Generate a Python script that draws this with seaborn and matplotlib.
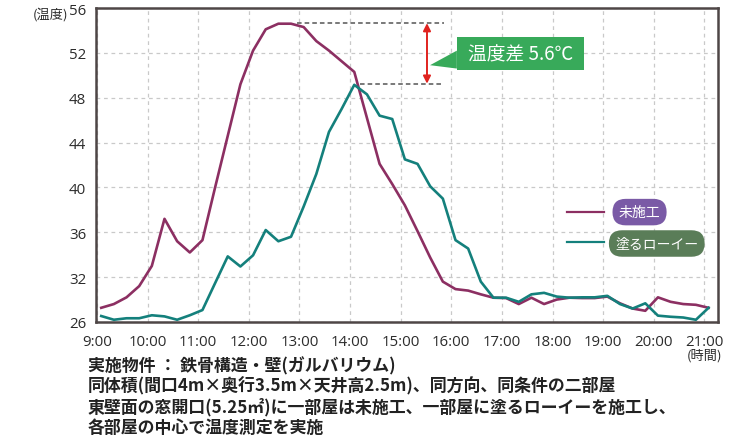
import numpy as np
import pandas as pd
import matplotlib
matplotlib.use("Agg")
import matplotlib.pyplot as plt
from matplotlib.patches import Polygon
import seaborn as sns

# ---------------- data ----------------
times = ["9:05", "9:20", "9:35", "9:50", "10:05", "10:20", "10:35", "10:50",
         "11:05", "11:20", "11:35", "11:50", "12:05", "12:20", "12:35", "12:50",
         "13:05", "13:20", "13:35", "13:50", "14:05", "14:20", "14:35", "14:50",
         "15:05", "15:20", "15:35", "15:50", "16:05", "16:20", "16:35", "16:50",
         "17:05", "17:20", "17:35", "17:50", "18:05", "18:20", "18:35", "18:50",
         "19:05", "19:20", "19:35", "19:50", "20:05", "20:20", "20:35", "20:50",
         "21:05"]
untreated = [27.9, 28.4, 29.3, 30.8, 33.0, 37.2, 35.2, 34.2,
             35.3, 40.0, 44.6, 49.2, 52.2, 54.1, 54.6, 54.6,
             54.3, 53.05, 52.2, 51.25, 50.3, 46.2, 42.1, 40.3,
             38.4, 36.1, 33.75, 31.4, 30.4, 30.2, 29.7, 29.25,
             29.2, 28.4, 29.25, 28.4, 29.0, 29.25, 29.2, 29.2,
             29.4, 28.5, 27.8, 27.5, 29.3, 28.7, 28.4, 28.3,
             27.9]
coated = [26.8, 26.3, 26.5, 26.5, 26.9, 26.75, 26.3, 26.9,
          27.6, 31.2, 33.85, 32.95, 33.95, 36.2, 35.2, 35.6,
          38.3, 41.2, 44.95, 47.0, 49.15, 48.3, 46.4, 46.1,
          42.5, 42.1, 40.1, 39.0, 35.3, 34.55, 31.4, 29.25,
          29.25, 28.7, 29.7, 29.9, 29.4, 29.25, 29.3, 29.3,
          29.5, 28.4, 27.8, 28.5, 26.85, 26.7, 26.6, 26.3,
          27.9]
series_names = ["未施工", "塗るローイー"]
x_tick_labels = ["9:00", "10:00", "11:00", "12:00", "13:00", "14:00", "15:00",
                 "16:00", "17:00", "18:00", "19:00", "20:00", "21:00"]
y_ticks = [26, 32, 36, 40, 44, 48, 52, 56]
peak_untreated = 54.65
peak_coated = 49.25
diff_label = "温度差 5.6℃"
notes = ["実施物件 ： 鉄骨構造・壁(ガルバリウム)",
         "同体積(間口4m×奥行3.5m×天井高2.5m)、同方向、同条件の二部屋",
         "東壁面の窓開口(5.25㎡)に一部屋は未施工、一部屋に塗るローイーを施工し、",
         "各部屋の中心で温度測定を実施"]

# ---------------- styling ----------------
plt.rcParams['font.family'] = ['Noto Sans CJK JP', 'DejaVu Sans']
C_PURPLE = "#8c2f62"
C_TEAL = "#14807c"
C_PILL_P = "#7a5aa6"
C_PILL_G = "#5a7d58"
C_GREEN = "#38aa5a"
C_RED = "#e0231f"
C_SPINE = "#4e4646"
C_TEXT = "#2b2b2b"


def to_hours(s):
    h, m = s.split(":")
    return int(h) + int(m) / 60.0


hours = [to_hours(t) for t in times]
df = pd.DataFrame({
    "hour": hours * 2,
    "temp": untreated + coated,
    "series": [series_names[0]] * len(hours) + [series_names[1]] * len(hours),
})


def fwd(v):
    v = np.asarray(v, dtype=float)
    return np.where(v < 32, 32 - (32 - v) * 4.0 / 6.0, v)


def inv(u):
    u = np.asarray(u, dtype=float)
    return np.where(u < 32, 32 - (32 - u) * 6.0 / 4.0, u)


fig = plt.figure(figsize=(7.41, 4.39), dpi=100)
ax = fig.add_axes([96 / 741, 1 - 323 / 439, (718 - 96) / 741, (323 - 9) / 439])

sns.lineplot(data=df, x="hour", y="temp", hue="series",
             palette={series_names[0]: C_PURPLE, series_names[1]: C_TEAL},
             linewidth=1.9, legend=False, ax=ax, sort=False)

ax.set_yscale("function", functions=(fwd, inv))
ax.set_ylim(26, 56)
ax.set_xlim(8.98, 21.27)

xt = [to_hours(t) for t in x_tick_labels]
ax.set_xticks(xt)
ax.set_xticklabels(x_tick_labels)
ax.set_yticks(y_ticks)
ax.set_yticklabels([str(v) for v in y_ticks])
ax.minorticks_off()
ax.tick_params(axis="both", length=0, labelsize=10.8, colors=C_TEXT)
ax.tick_params(axis="x", pad=9)
ax.tick_params(axis="y", pad=7)
for lab in ax.get_xticklabels() + ax.get_yticklabels():
    lab.set_family(["Open Sans", "DejaVu Sans"])
ax.set_xlabel("")
ax.set_ylabel("")

ax.grid(True, linestyle=(0, (3, 3)), color="#c9c9c9", linewidth=0.9)
ax.set_axisbelow(True)
for s in ax.spines.values():
    s.set_color(C_SPINE)
    s.set_linewidth(1.8)

# dashed reference lines
ax.plot([12.95, 15.86], [peak_untreated, peak_untreated], color="#555555",
        linestyle=(0, (3, 2)), linewidth=1.1, zorder=3)
ax.plot([14.2, 15.86], [peak_coated, peak_coated], color="#555555",
        linestyle=(0, (3, 2)), linewidth=1.1, zorder=3)
ax.annotate("", xy=(15.52, peak_coated), xytext=(15.52, peak_untreated),
            arrowprops=dict(arrowstyle="<|-|>", color=C_RED, lw=1.4,
                            mutation_scale=11, shrinkA=0, shrinkB=0), zorder=4)

# callout
ax.add_patch(Polygon([(16.11, 52.2), (15.58, 50.9), (16.11, 50.6)],
                     closed=True, facecolor=C_GREEN, edgecolor="none", zorder=4))
ax.add_patch(plt.Rectangle((16.11, 50.45), 18.62 - 16.11, 53.45 - 50.45,
                           facecolor=C_GREEN, edgecolor="none", zorder=4))
ax.text((16.11 + 18.62) / 2, 51.9, diff_label, color="white", fontsize=13.5,
        ha="center", va="center", zorder=5)

# legend
ax.plot([18.29, 19.02], [37.8, 37.8], color=C_PURPLE, linewidth=1.6)
ax.plot([18.29, 19.02], [35.1, 35.1], color=C_TEAL, linewidth=1.6)
ax.text(19.72, 37.8, series_names[0], color="white", fontsize=10, ha="center",
        va="center", zorder=5,
        bbox=dict(boxstyle="round,pad=0.45,rounding_size=0.95", fc=C_PILL_P, ec="none"))
ax.text(20.06, 35.0, series_names[1], color="white", fontsize=10, ha="center",
        va="center", zorder=5,
        bbox=dict(boxstyle="round,pad=0.45,rounding_size=0.95", fc=C_PILL_G, ec="none"))

# axis unit labels
fig.text(51 / 741, 1 - 15 / 439, "(温度)", fontsize=9.5, color=C_TEXT,
         ha="center", va="center")
fig.text(705 / 741, 1 - 356 / 439, "(時間)", fontsize=9.5, color=C_TEXT,
         ha="center", va="center")

# notes
for i, line in enumerate(notes):
    fig.text(88 / 741, 1 - (366 + 20.7 * i) / 439, line, fontsize=12.2,
             fontweight="bold", color="#222222", ha="left", va="center")

fig.savefig("out.png", dpi=100)
